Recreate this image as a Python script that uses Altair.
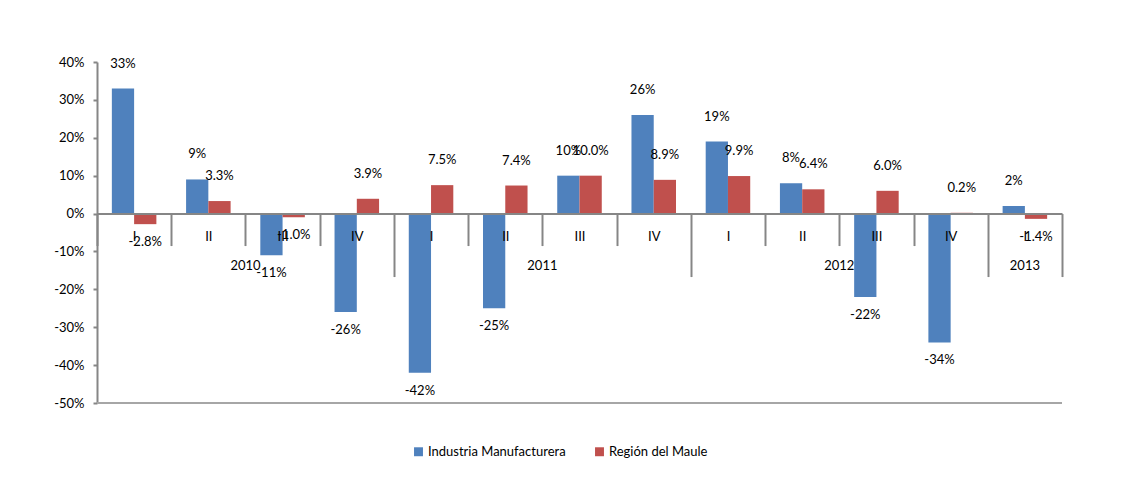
import altair as alt
import pandas as pd

quarters = ["I", "II", "III", "IV", "I", "II", "III", "IV", "I", "II", "III", "IV", "I"]
years = ["2010"] * 4 + ["2011"] * 4 + ["2012"] * 4 + ["2013"]
industria = [0.33, 0.09, -0.11, -0.26, -0.42, -0.25, 0.10, 0.26, 0.19, 0.08, -0.22, -0.34, 0.02]
maule = [-0.028, 0.033, -0.010, 0.039, 0.075, 0.074, 0.100, 0.089, 0.099, 0.064, 0.060, 0.002, -0.014]
series_names = ["Industria Manufacturera", "Región del Maule"]
series_colors = ["#4F81BD", "#C0504D"]
label_decimals = [0, 1]
y_ticks = [0.4, 0.3, 0.2, 0.1, 0.0, -0.1, -0.2, -0.3, -0.4, -0.5]
y_domain = [-0.5, 0.4]

cats = [f"{y} {q}" for y, q in zip(years, quarters)]

rows = []
for name, vals, dec in zip(series_names, [industria, maule], label_decimals):
    for c, v in zip(cats, vals):
        rows.append({"cat": c, "series": name, "value": v,
                     "label": f"{v * 100:.{dec}f}%"})
df = pd.DataFrame(rows)

# year label anchors
year_rows_even, year_rows_odd = [], []
for yr in dict.fromkeys(years):
    yc = [c for c, y in zip(cats, years) if y == yr]
    n = len(yc)
    if n % 2 == 0:
        year_rows_even.append({"year": yr, "cat": yc[n // 2]})
    else:
        year_rows_odd.append({"year": yr, "cat": yc[n // 2]})
df_ye = pd.DataFrame(year_rows_even)
df_yo = pd.DataFrame(year_rows_odd)

W, H = 965, 341
GRAY = "#868686"
FONT = "Lato"
zero_offset = -H * (0 - y_domain[0]) / (y_domain[1] - y_domain[0])

year_end_test = " || ".join(
    [f"datum.value == '{[c for c, y in zip(cats, years) if y == yr][-1]}'" for yr in dict.fromkeys(years)]
)
TICK_Q, TICK_Y = 32, 63
LABEL_PAD = -15

x_axis = alt.Axis(
    orient="bottom", offset=zero_offset, title=None, tickBand="extent", zindex=1,
    labelExpr="split(datum.value, ' ')[1]", labelAngle=0,
    labelPadding={"condition": {"test": year_end_test, "value": LABEL_PAD - (TICK_Y - TICK_Q)},
                  "value": LABEL_PAD},
    labelFontSize=13, labelColor="#000000", labelFont=FONT,
    tickColor=GRAY, tickWidth=2,
    tickSize={"condition": {"test": year_end_test, "value": TICK_Y}, "value": TICK_Q},
    domainColor=GRAY, domainWidth=2,
)
x_scale = alt.Scale(paddingInner=0, paddingOuter=0)
x_enc = alt.X("cat:N", sort=cats, scale=x_scale, axis=x_axis)

y_axis = alt.Axis(
    values=y_ticks, labelExpr="round(datum.value * 100) + '%'", title=None,
    grid=False, tickSize=4, tickColor=GRAY, tickWidth=2, domainColor=GRAY, domainWidth=2,
    labelPadding=9, labelFontSize=13, labelColor="#000000", labelFont=FONT,
)
y_scale = alt.Scale(domain=y_domain, nice=False, zero=False)
y_enc = alt.Y("value:Q", scale=y_scale, axis=y_axis)

xoff = alt.XOffset("series:N", sort=series_names,
                   scale=alt.Scale(paddingInner=0, paddingOuter=0.667))

color = alt.Color(
    "series:N",
    scale=alt.Scale(domain=series_names, range=series_colors),
    legend=alt.Legend(
        title=None, orient="none", legendX=315, legendY=383, direction="horizontal",
        symbolType="square", symbolSize=80, symbolStrokeWidth=0,
        labelFontSize=13, labelFont=FONT, labelColor="#000000",
        columnPadding=27, labelOffset=3,
    ),
)

base = alt.Chart(df)

bars = base.mark_bar().encode(x=x_enc, xOffset=xoff, y=y_enc, color=color)

floor = base.mark_rule(color="#A6A6A6", strokeWidth=2).encode(
    y=alt.YDatum(y_domain[0], scale=y_scale, axis=y_axis)
)

pos_labels = base.transform_filter("datum.value >= 0").mark_text(
    baseline="middle", dy=-25, fontSize=13, font=FONT, color="#000000"
).encode(x=x_enc, xOffset=xoff, y=y_enc, text="label:N")

neg_labels = base.transform_filter("datum.value < 0").mark_text(
    baseline="middle", dy=18, fontSize=13, font=FONT, color="#000000"
).encode(x=x_enc, xOffset=xoff, y=y_enc, text="label:N")

year_even = alt.Chart(df_ye).mark_text(
    baseline="middle", dy=52, fontSize=13, font=FONT, color="#000000"
).encode(
    x=alt.X("cat:N", sort=cats, scale=x_scale, bandPosition=0, axis=x_axis),
    y=alt.YDatum(0, scale=y_scale, axis=y_axis),
    text="year:N",
)
year_odd = alt.Chart(df_yo).mark_text(
    baseline="middle", dy=52, fontSize=13, font=FONT, color="#000000"
).encode(
    x=alt.X("cat:N", sort=cats, scale=x_scale, bandPosition=0.5, axis=x_axis),
    y=alt.YDatum(0, scale=y_scale, axis=y_axis),
    text="year:N",
)

chart = alt.layer(bars, floor, pos_labels, neg_labels, year_even, year_odd).properties(
    width=W, height=H,
    autosize=alt.AutoSizeParams(type="none"),
    padding={"left": 89, "top": 54, "right": 58, "bottom": 70},
).configure(font=FONT).configure_view(stroke=None)

chart.save("out.html", embed_options={"renderer": "svg", "actions": False})
